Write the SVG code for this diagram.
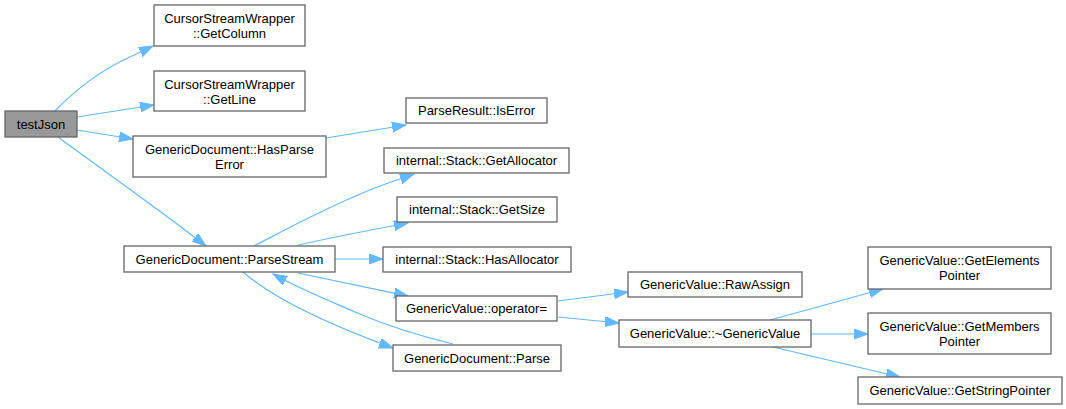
<svg xmlns="http://www.w3.org/2000/svg" width="1066" height="409" viewBox="0 0 1066 409">
<style>
.n rect{fill:#fff;stroke:#666;stroke-width:1.3}
.n text{font-family:"Liberation Sans",Arial,sans-serif;font-size:13px;fill:#000;text-anchor:middle}
.e path{fill:none;stroke:#63b8ff;stroke-width:1.2;marker-end:url(#ah)}
</style>
<defs>
<marker id="ah" markerUnits="userSpaceOnUse" markerWidth="16" markerHeight="12" refX="14" refY="5" orient="auto">
<path d="M0,0 L14,5 L0,10 z" fill="#63b8ff" stroke="#63b8ff" stroke-width="1"/>
</marker>
</defs>
<rect width="1066" height="409" fill="#fff"/>
<g id="edges" class="e">
<path d="M55,111 C72,93 100,70 130,57 L153,46"/>
<path d="M77,117 L154,105"/>
<path d="M77,130 L133,139"/>
<path d="M58,137 C100,168 160,210 206,246"/>
<path d="M326,138 L406,125"/>
<path d="M254,246 C285,230 330,205 380,186 L414,174"/>
<path d="M298,245 C330,238 370,230 408,223"/>
<path d="M335,259 L383,259"/>
<path d="M298,273 C330,280 370,288 408,296"/>
<path d="M243,272 C275,300 330,325 393,348"/>
<path d="M453,344 C420,336 385,325 355,312 C330,301 300,289 273,274"/>
<path d="M558,301 L628,292"/>
<path d="M558,317 L619,323"/>
<path d="M770,320 L883,289"/>
<path d="M811,334 L868,334"/>
<path d="M773,347 L900,377"/>
</g>
<g id="testJson" class="n"><rect x="5" y="111" width="72" height="26" style="fill:#999"/><text x="41" y="129">testJson</text></g>
<g id="GetColumn" class="n"><rect x="154" y="5" width="151" height="41"/><text x="229.5" y="23">CursorStreamWrapper</text><text x="229.5" y="38">::GetColumn</text></g>
<g id="GetLine" class="n"><rect x="154" y="71" width="151" height="40"/><text x="229.5" y="89">CursorStreamWrapper</text><text x="229.5" y="104">::GetLine</text></g>
<g id="HasParseError" class="n"><rect x="133" y="136" width="193" height="41"/><text x="229.5" y="154">GenericDocument::HasParse</text><text x="229.5" y="169">Error</text></g>
<g id="ParseStream" class="n"><rect x="124" y="246" width="211" height="26"/><text x="229.5" y="264">GenericDocument::ParseStream</text></g>
<g id="IsError" class="n"><rect x="406" y="98" width="141" height="25"/><text x="476.5" y="115">ParseResult::IsError</text></g>
<g id="GetAllocator" class="n"><rect x="384" y="148" width="185" height="25"/><text x="476.5" y="165">internal::Stack::GetAllocator</text></g>
<g id="GetSize" class="n"><rect x="397" y="197" width="160" height="25"/><text x="477" y="214">internal::Stack::GetSize</text></g>
<g id="HasAllocator" class="n"><rect x="383" y="247" width="188" height="25"/><text x="477" y="264">internal::Stack::HasAllocator</text></g>
<g id="operatorAssign" class="n"><rect x="396" y="296" width="161" height="25"/><text x="476.5" y="313">GenericValue::operator=</text></g>
<g id="Parse" class="n"><rect x="393" y="345" width="168" height="26"/><text x="477" y="363">GenericDocument::Parse</text></g>
<g id="RawAssign" class="n"><rect x="628" y="272" width="174" height="25"/><text x="715" y="289">GenericValue::RawAssign</text></g>
<g id="Destructor" class="n"><rect x="619" y="320" width="192" height="27"/><text x="715" y="338">GenericValue::~GenericValue</text></g>
<g id="GetElementsPointer" class="n"><rect x="868" y="247" width="183" height="42"/><text x="959.5" y="265">GenericValue::GetElements</text><text x="959.5" y="280">Pointer</text></g>
<g id="GetMembersPointer" class="n"><rect x="868" y="313" width="183" height="41"/><text x="959.5" y="331">GenericValue::GetMembers</text><text x="959.5" y="346">Pointer</text></g>
<g id="GetStringPointer" class="n"><rect x="858" y="377" width="204" height="27"/><text x="960" y="395">GenericValue::GetStringPointer</text></g>
</svg>
